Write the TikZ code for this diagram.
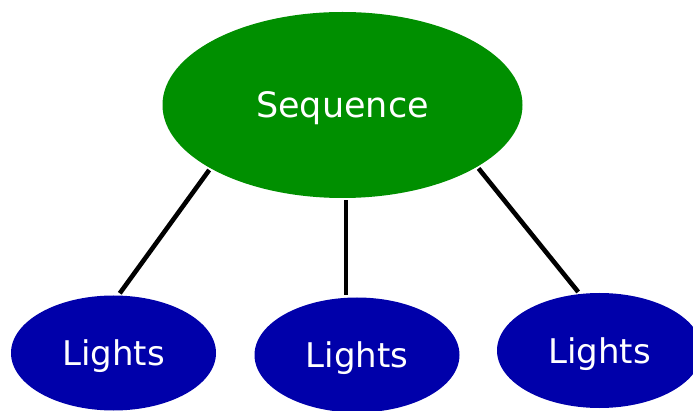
\documentclass[tikz,border=0pt]{standalone}
\usepackage{fontspec}
\setmainfont{DejaVu Sans}
\usetikzlibrary{shapes.geometric}
\definecolor{seqgreen}{RGB}{0,143,0}
\definecolor{lightsblue}{RGB}{0,0,170}

\begin{document}
\begin{tikzpicture}[x=1pt,y=-1pt,line width=4.6pt,
  seqnode/.style={ellipse, fill=seqgreen, text=white, inner sep=0pt, minimum width=360pt, minimum height=186pt, font=\fontsize{35}{40}\selectfont, text height=25pt, text depth=0pt},
  lightsnode/.style={ellipse, fill=lightsblue, text=white, inner sep=0pt, minimum width=205pt, minimum height=115pt, font=\fontsize{34}{40}\selectfont, text height=25pt, text depth=0pt}]
  \useasboundingbox (0,0) rectangle (693,411);
  \node[seqnode] (seq) at (342.5,105) {Sequence};
  \node[lightsnode] (lightsa) at (113.5,353) {Lights};
  \node[lightsnode] (lightsb) at (357,355) {Lights};
  \node[lightsnode] (lightsc) at (599.5,350.5) {Lights};

  \draw (seq.206) -- (lightsa.84);
  \draw (seq.272) -- (seq.272 |- lightsb.north);
  \draw (seq.335.6) -- (lightsc.110);
\end{tikzpicture}
\end{document}
